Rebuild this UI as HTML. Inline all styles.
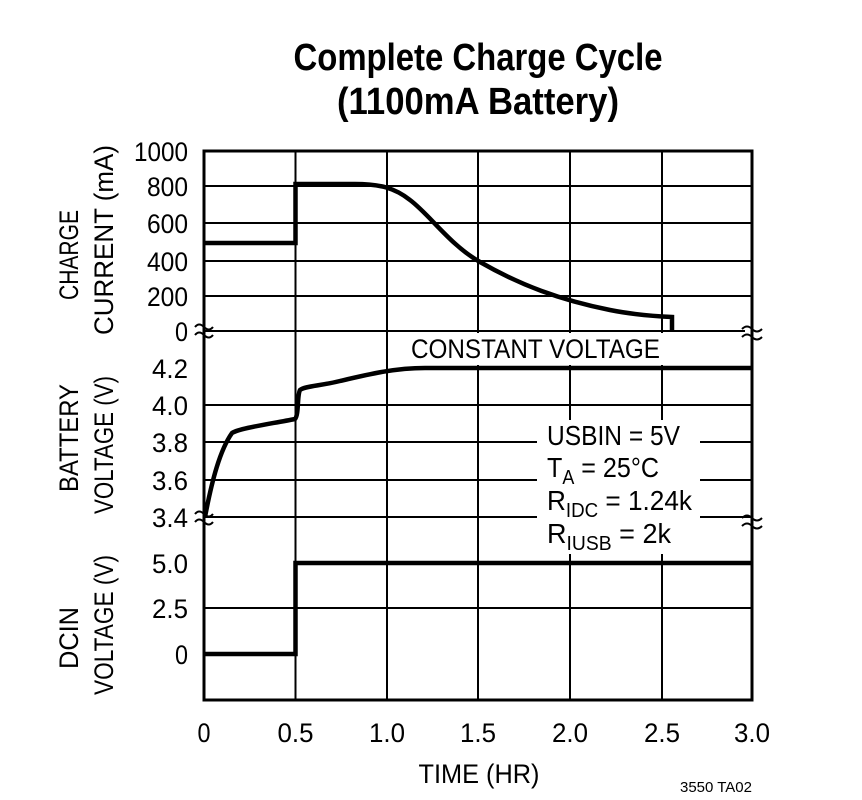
<!DOCTYPE html>
<html><head><style>body{margin:0;background:#fff}svg{display:block}</style></head>
<body>
<svg width="862" height="800" viewBox="0 0 862 800" xmlns="http://www.w3.org/2000/svg" font-family="Liberation Sans, sans-serif" fill="#000">
<rect width="862" height="800" fill="#fff"/>
<text x="478" y="70" font-size="38" font-weight="bold" text-anchor="middle" textLength="369" lengthAdjust="spacingAndGlyphs">Complete Charge Cycle</text>
<text x="478" y="114" font-size="38" font-weight="bold" text-anchor="middle" textLength="282" lengthAdjust="spacingAndGlyphs">(1100mA Battery)</text>
<g stroke="#000" stroke-width="2">
<line x1="295.5" y1="151" x2="295.5" y2="700"/>
<line x1="387" y1="151" x2="387" y2="700"/>
<line x1="478" y1="151" x2="478" y2="700"/>
<line x1="570" y1="151" x2="570" y2="700"/>
<line x1="662" y1="151" x2="662" y2="700"/>
<line x1="204" y1="186" x2="752" y2="186"/>
<line x1="204" y1="223" x2="752" y2="223"/>
<line x1="204" y1="261" x2="752" y2="261"/>
<line x1="204" y1="296" x2="752" y2="296"/>
<line x1="204" y1="331" x2="745" y2="331"/>
<line x1="204" y1="405" x2="752" y2="405"/>
<line x1="204" y1="442" x2="752" y2="442"/>
<line x1="204" y1="480" x2="752" y2="480"/>
<line x1="204" y1="517" x2="752" y2="517"/>
<line x1="204" y1="608" x2="752" y2="608"/>
</g>
<rect x="404" y="333" width="262" height="32" fill="#fff"/>
<rect x="537" y="420" width="163" height="134" fill="#fff"/>
<rect x="204" y="151" width="548" height="549" fill="none" stroke="#000" stroke-width="3"/>
<g fill="none" stroke="#000" stroke-width="2">
<path d="M195 327 q4 -5 9 0 t9 0 M195 335 q4 -5 9 0 t9 0"/>
<path d="M195 514 q4 -5 9 0 t9 0 M195 522 q4 -5 9 0 t9 0"/>
<path d="M742 329 q5 -5 10 0 t10 0 M742 337 q5 -5 10 0 t10 0"/>
<path d="M742 518 q5 -5 10 0 t10 0 M742 526 q5 -5 10 0 t10 0"/>
</g>
<g fill="none" stroke="#000" stroke-width="4.5" stroke-linejoin="miter">
<path d="M204 243 H295.5 V184 H355 C380 184 395 188 410 200 C430 215 450 245 480 262 C520 285 560 300 610 310 C630 314 650 316 672 317 V331"/>
<path d="M205 517 C212 480 220 450 232 433 C240 428 270 424 295 419 C299 415 297 395 300 390 C305 386 320 386 340 381 C370 374 395 368 425 368 H752"/>
<path d="M204 654 H295.5 V563 H752"/>
</g>
<g font-size="27" text-anchor="end">
<text x="188" y="161" textLength="54" lengthAdjust="spacingAndGlyphs">1000</text>
<text x="188" y="196" textLength="41" lengthAdjust="spacingAndGlyphs">800</text>
<text x="188" y="233" textLength="41" lengthAdjust="spacingAndGlyphs">600</text>
<text x="188" y="271" textLength="41" lengthAdjust="spacingAndGlyphs">400</text>
<text x="188" y="306" textLength="41" lengthAdjust="spacingAndGlyphs">200</text>
<text x="188" y="341" textLength="13" lengthAdjust="spacingAndGlyphs">0</text>
<text x="188" y="378" textLength="36" lengthAdjust="spacingAndGlyphs">4.2</text>
<text x="188" y="415" textLength="36" lengthAdjust="spacingAndGlyphs">4.0</text>
<text x="188" y="452" textLength="36" lengthAdjust="spacingAndGlyphs">3.8</text>
<text x="188" y="490" textLength="36" lengthAdjust="spacingAndGlyphs">3.6</text>
<text x="188" y="527" textLength="36" lengthAdjust="spacingAndGlyphs">3.4</text>
<text x="188" y="573" textLength="36" lengthAdjust="spacingAndGlyphs">5.0</text>
<text x="188" y="618" textLength="36" lengthAdjust="spacingAndGlyphs">2.5</text>
<text x="188" y="664" textLength="13" lengthAdjust="spacingAndGlyphs">0</text>
</g>
<g font-size="27" text-anchor="middle">
<text transform="translate(78,255) rotate(-90)" textLength="90" lengthAdjust="spacingAndGlyphs">CHARGE</text>
<text transform="translate(113,240) rotate(-90)" textLength="190" lengthAdjust="spacingAndGlyphs">CURRENT (mA)</text>
<text transform="translate(78,438) rotate(-90)" textLength="108" lengthAdjust="spacingAndGlyphs">BATTERY</text>
<text transform="translate(113,445) rotate(-90)" textLength="138" lengthAdjust="spacingAndGlyphs">VOLTAGE (V)</text>
<text transform="translate(78,638) rotate(-90)" textLength="62" lengthAdjust="spacingAndGlyphs">DCIN</text>
<text transform="translate(113,625) rotate(-90)" textLength="140" lengthAdjust="spacingAndGlyphs">VOLTAGE (V)</text>
</g>
<g font-size="27" text-anchor="middle">
<text x="204" y="742" textLength="13" lengthAdjust="spacingAndGlyphs">0</text>
<text x="295.5" y="742" textLength="36" lengthAdjust="spacingAndGlyphs">0.5</text>
<text x="387" y="742" textLength="36" lengthAdjust="spacingAndGlyphs">1.0</text>
<text x="478" y="742" textLength="36" lengthAdjust="spacingAndGlyphs">1.5</text>
<text x="570" y="742" textLength="36" lengthAdjust="spacingAndGlyphs">2.0</text>
<text x="662" y="742" textLength="36" lengthAdjust="spacingAndGlyphs">2.5</text>
<text x="752" y="742" textLength="36" lengthAdjust="spacingAndGlyphs">3.0</text>
<text x="479" y="783" textLength="121" lengthAdjust="spacingAndGlyphs">TIME (HR)</text>
</g>
<text x="716" y="792" font-size="15" text-anchor="middle" textLength="72" lengthAdjust="spacingAndGlyphs">3550 TA02</text>
<text x="411" y="358" font-size="27" textLength="249" lengthAdjust="spacingAndGlyphs">CONSTANT VOLTAGE</text>
<g font-size="28">
<text x="547" y="445" textLength="133" lengthAdjust="spacingAndGlyphs">USBIN = 5V</text>
<text x="547" y="477" textLength="112" lengthAdjust="spacingAndGlyphs">T<tspan font-size="20" dy="7">A</tspan><tspan dy="-7"> = 25°C</tspan></text>
<text x="547" y="510" textLength="145" lengthAdjust="spacingAndGlyphs">R<tspan font-size="20" dy="7">IDC</tspan><tspan dy="-7"> = 1.24k</tspan></text>
<text x="547" y="543" textLength="124" lengthAdjust="spacingAndGlyphs">R<tspan font-size="20" dy="7">IUSB</tspan><tspan dy="-7"> = 2k</tspan></text>
</g>
</svg>
</body></html>
